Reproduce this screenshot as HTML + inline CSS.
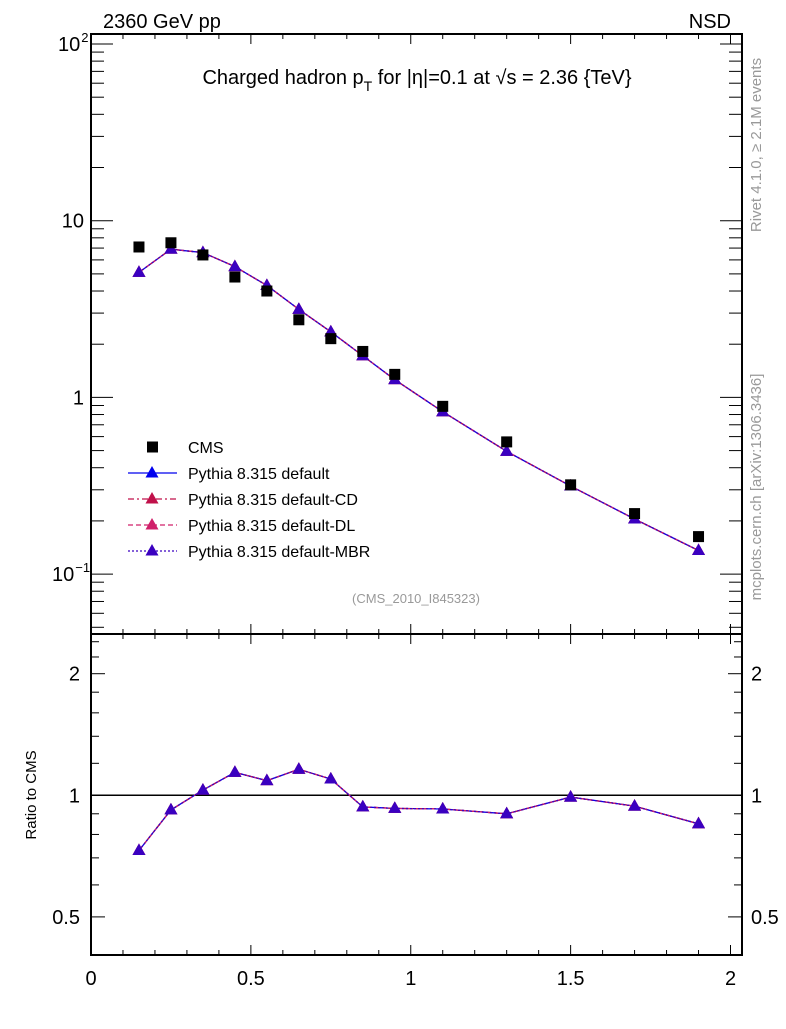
<!DOCTYPE html>
<html><head><meta charset="utf-8"><style>
html,body{margin:0;padding:0;background:#fff;}
svg text{font-family:"Liberation Sans",sans-serif;}
</style></head><body>
<svg id="c" width="786" height="1024" xmlns="http://www.w3.org/2000/svg">
<text x="103" y="28" font-size="20">2360 GeV pp</text>
<text x="731" y="28" font-size="20" text-anchor="end">NSD</text>
<text x="417" y="84" font-size="20" text-anchor="middle">Charged hadron p<tspan font-size="14" dy="7">T</tspan><tspan dy="-7"> for |η|=0.1 at √s = 2.36 {TeV}</tspan></text>
<text x="416" y="603" font-size="13" fill="#999" text-anchor="middle">(CMS_2010_I845323)</text>
<text transform="translate(761,145) rotate(-90)" font-size="15" fill="#999" text-anchor="middle">Rivet 4.1.0, ≥ 2.1M events</text>
<text transform="translate(761,487) rotate(-90)" font-size="15" fill="#999" text-anchor="middle">mcplots.cern.ch [arXiv:1306.3436]</text>
<text transform="translate(36,795) rotate(-90)" font-size="15" text-anchor="middle">Ratio to CMS</text>
<g id="axes"></g>
<g id="marks"></g>
<g id="legend"></g>
</svg>
<script>
const xs = [0.15,0.25,0.35,0.45,0.55,0.65,0.75,0.85,0.95,1.1,1.3,1.5,1.7,1.9];
const cmsVals = [7.1,7.5,6.4,4.8,4.0,2.75,2.15,1.82,1.35,0.89,0.56,0.32,0.22,0.163];
const mcVals = [5.1,6.9,6.6,5.5,4.3,3.15,2.35,1.72,1.26,0.83,0.495,0.315,0.205,0.136];
const ratioVals = [0.73,0.92,1.03,1.14,1.087,1.16,1.097,0.936,0.928,0.925,0.90,0.99,0.94,0.85];
const xTicks = [0,0.5,1,1.5,2];
const xTickLabels = ["0","0.5","1","1.5","2"];
const ratioTicks = [0.5,1,2];
const ratioTickLabels = ["0.5","1","2"];

const NS="http://www.w3.org/2000/svg";
const L=91,R=742,T=34,MB=634,B=955;
const X=v=>91+v*319.75;
const Y=v=>44+(2-Math.log10(v))*176.7;
const RY=v=>795.3-Math.log2(v)*121.6;
const ax=document.getElementById('axes'),mk=document.getElementById('marks'),lg=document.getElementById('legend');
function el(p,tag,a){const e=document.createElementNS(NS,tag);for(const k in a)e.setAttribute(k,a[k]);p.appendChild(e);return e;}
function ln(x1,y1,x2,y2,w){return el(ax,'line',{x1,y1,x2,y2,stroke:'#000','stroke-width':w||1});}
function txt(p,x,y,s,size,anchor){const t=el(p,'text',{x,y,'font-size':size,'text-anchor':anchor||'start'});t.textContent=s;return t;}

const f1=el(ax,'rect',{x:L,y:T,width:R-L,height:MB-T,fill:'none',stroke:'#000','stroke-width':2});


const f2=el(ax,'rect',{x:L,y:MB,width:R-L,height:B-MB,fill:'none',stroke:'#000','stroke-width':2});


for(let i=0;i<=20;i++){const v=i/10,x=X(v),maj=i%5==0;
 [T,MB].forEach(y=>ln(x,y,x,y+(maj?10:5)));
 [MB,B].forEach(y=>ln(x,y,x,y-(maj?10:5)));}
xTicks.forEach((v,i)=>{const t=txt(ax,X(v),985,xTickLabels[i],20,'middle');
 
 });
for(let d=-2;d<=2;d++)for(let m=1;m<=9;m++){const v=m*Math.pow(10,d),y=Y(v);if(y<T||y>MB)continue;
 const len=m==1?22:13;ln(L,y,L+len,y);ln(R,y,R-len,y);}
[[100,'10','2',58],[10,'10','',84],[1,'1','',84],[0.1,'10','−1',52]].forEach(([v,b,e,x])=>{
 const t=el(ax,'text',{x:x,y:Y(v)+7,'font-size':20,'text-anchor':e?'start':'end'});
 t.textContent=b;
 if(e){const s=el(t,'tspan',{'font-size':13,dy:-9,dx:1});s.textContent=e;}
 
 });
[0.4,0.5,0.6,0.7,0.8,0.9,1,1.2,1.4,1.6,1.8,2,2.2,2.4].forEach(v=>{const y=RY(v);if(y<MB||y>B)return;
 const len=(v==0.5||v==1||v==2)?14:8;ln(L,y,L+len,y);ln(R,y,R-len,y);});
ratioTicks.forEach((v,i)=>{const y=RY(v)+7;
 const a=txt(ax,80,y,ratioTickLabels[i],20,'end');
 const b=txt(ax,751,y,ratioTickLabels[i],20,'start');});
const one=ln(L,RY(1),R,RY(1),1.5);



function tri(p,x,y,c){return el(p,'polygon',{points:`${x},${y-7} ${x-6.5},${y+4.5} ${x+6.5},${y+4.5}`,fill:c});}
const series=[{c:'#0000ee',d:''},{c:'#c0104a',d:'6 3 2 3'},{c:'#d0206a',d:'5 3'},{c:'#3a00c0',d:'2 2'}];
const names=['pythia-default','pythia-cd','pythia-dl','pythia-mbr'];
series.forEach((s,si)=>{
 const p1=el(mk,'polyline',{points:xs.map((x,i)=>X(x)+','+Y(mcVals[i])).join(' '),fill:'none',stroke:s.c,'stroke-width':1.3,'stroke-dasharray':s.d});
 
 
 const p2=el(mk,'polyline',{points:xs.map((x,i)=>X(x)+','+RY(ratioVals[i])).join(' '),fill:'none',stroke:s.c,'stroke-width':1.3,'stroke-dasharray':s.d});
 
 
 xs.forEach((x,i)=>{const a=tri(mk,X(x),Y(mcVals[i]),s.c);
  const b=tri(mk,X(x),RY(ratioVals[i]),s.c);});
});
xs.forEach((x,i)=>{const r=el(mk,'rect',{x:X(x)-5.5,y:Y(cmsVals[i])-5.5,width:11,height:11,fill:'#000'});
 
 });
const labels=['CMS','Pythia 8.315 default','Pythia 8.315 default-CD','Pythia 8.315 default-DL','Pythia 8.315 default-MBR'];
labels.forEach((s,i)=>{const y=447+i*26;
 if(i==0){el(lg,'rect',{x:147,y:y-5.5,width:11,height:11,fill:'#000'});}
 else{const se=series[i-1];el(lg,'line',{x1:128,y1:y,x2:177,y2:y,stroke:se.c,'stroke-width':1.3,'stroke-dasharray':se.d});tri(lg,152,y,se.c);}
 const t=txt(lg,188,y+6,s,16);
 
 });
</script>
</body></html>
